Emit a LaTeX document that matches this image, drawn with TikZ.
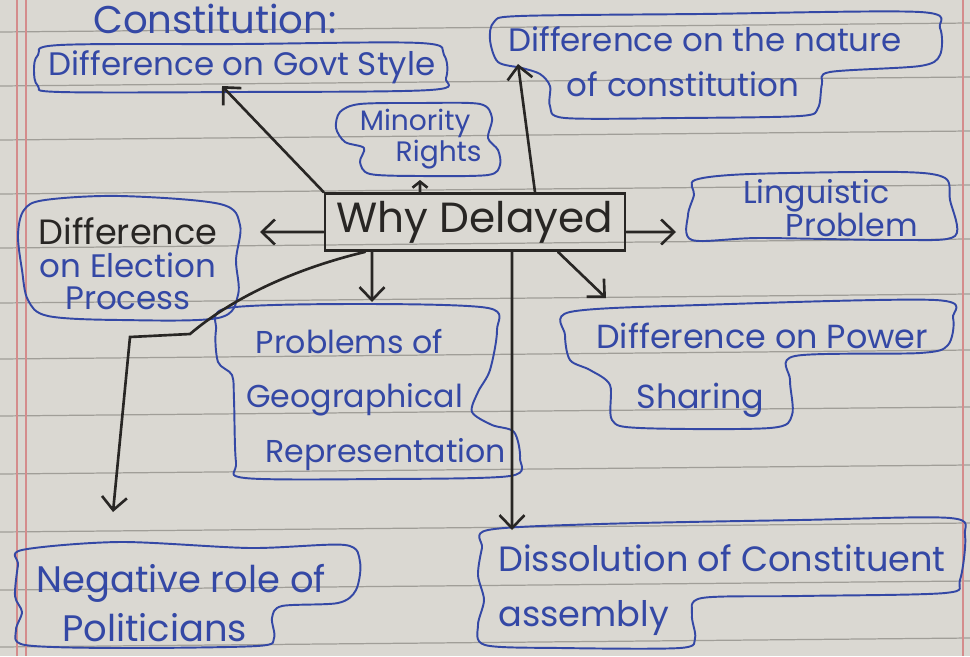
\documentclass[tikz,border=0pt]{standalone}
\usepackage{fontspec}
\setmainfont{Poppins}
\usepackage{tikz}
\usetikzlibrary{positioning,arrows.meta}
\usepackage{xcolor}

\definecolor{paper}{RGB}{218,216,210}
\definecolor{rulegray}{RGB}{160,158,152}
\definecolor{marginred}{RGB}{212,140,140}
\definecolor{ink}{RGB}{52,72,165}
\definecolor{pencil}{RGB}{40,38,36}

\tikzset{
  bubble/.style={ink, line width=1.1pt, line join=round},
  hand/.style={ink, align=center, inner sep=0pt,
    font=\fontsize{18}{26}\selectfont},
  link/.style={pencil, line width=1.5pt, line cap=round,
    -{Straight Barb[length=2.6mm,width=5mm]}},
}

\begin{document}
\begin{tikzpicture}[x=0.02cm, y=-0.02cm]
    % ruled paper
    \useasboundingbox (0,0) rectangle (970,656);
    \fill[paper] (0,0) rectangle (970,656);
    \foreach \y in {32,86,140,194,248,303,359,416,474,532,590,647} {
        \draw[rulegray, line width=0.7pt] (0,\y) -- (970,\y-9);
    }
    \draw[marginred, line width=0.6pt] (17,0) -- (17,656);
    \draw[marginred, line width=0.6pt] (26,0) -- (26,656);
    \draw[marginred, line width=0.6pt] (963,0) -- (963,656);

    % heading
    \node[hand, font=\fontsize{22}{24}\selectfont] (title) at (215,19) {Constitution:};

    % centre
    \node[draw=pencil, line width=1.6pt, minimum width=6cm, minimum height=1.14cm,
          inner sep=0pt, pencil, font=\fontsize{24}{26}\selectfont] (why) at (475,222) {Why Delayed};

    % bubbles
    \draw[bubble] plot[smooth cycle, tension=0.55] coordinates {
        (38,55) (60,45) (240,44) (420,43) (444,55) (446,78) (430,90)
        (240,92) (60,92) (38,86) (34,70)};
    \node[hand, font=\fontsize{18.5}{20}\selectfont] (govt) at (242,67) {Difference on Govt Style};

    \draw[bubble] plot[smooth cycle, tension=0.5] coordinates {
        (494,22) (520,16) (700,14) (920,12) (940,28) (940,55) (920,66)
        (830,72) (822,84) (818,108) (800,116) (680,118) (565,118)
        (550,106) (550,86) (540,74) (522,68) (498,62) (490,40)};
    \node[hand, anchor=west, align=left, font=\fontsize{18.5}{25.5}\selectfont] (nature) at (508,62)
        {Difference on the nature\\\hspace*{1.8em}of constitution};

    \draw[bubble] plot[smooth cycle, tension=0.5] coordinates {
        (340,112) (360,104) (420,103) (480,104) (492,118) (488,138)
        (498,150) (500,165) (488,175) (420,176) (370,174) (360,162)
        (364,148) (345,142) (336,128)};
    \node[hand, anchor=east, align=right, font=\fontsize{16}{15.5}\selectfont] (minority) at (482,139)
        {Minority\hspace*{0.4em}\\Rights};

    \draw[bubble] plot[smooth cycle, tension=0.55] coordinates {
        (45,200) (120,196) (220,204) (240,225) (236,260) (238,295)
        (218,318) (120,320) (48,316) (28,300) (22,270) (18,235) (24,210)};
    \node[hand, font=\fontsize{18.5}{18.5}\selectfont] (election) at (128,264)
        {\textcolor{pencil}{\fontsize{20}{19}\selectfont Difference}\\on Election\\Process};

    \draw[bubble] plot[smooth cycle, tension=0.5] coordinates {
        (695,180) (750,174) (900,172) (945,178) (950,200) (955,236)
        (900,240) (760,238) (692,240) (688,215) (694,195)};
    \node[hand, anchor=east, align=right, font=\fontsize{18}{15.5}\selectfont] (linguistic) at (918,208)
        {Linguistic\hspace*{0.9em}\\Problem};

    \draw[bubble] plot[smooth cycle, tension=0.5] coordinates {
        (228,308) (360,304) (488,308) (497,330) (490,370) (478,392)
        (472,412) (492,425) (514,432) (520,458) (510,476) (380,479)
        (245,478) (236,462) (234,400) (232,375) (218,362) (216,330)};
    \node[hand, anchor=west, align=left, font=\fontsize{18}{31}\selectfont] (geo) at (246,400)
        {\hspace*{0.3em}Problems of\\Geographical\\\hspace*{0.6em}Representation};

    \draw[bubble] plot[smooth cycle, tension=0.5] coordinates {
        (570,312) (700,305) (935,300) (953,318) (948,345) (920,353)
        (795,356) (790,380) (792,415) (770,428) (640,428) (612,420)
        (610,385) (590,370) (570,360) (565,335)};
    \node[hand, anchor=west, align=left, font=\fontsize{19}{34}\selectfont] (power) at (596,370)
        {Difference on Power\\\hspace*{1.2em}Sharing};

    \draw[bubble] plot[smooth cycle, tension=0.5] coordinates {
        (22,550) (120,542) (250,548) (345,545) (360,562) (356,590)
        (338,603) (282,606) (272,618) (274,638) (257,646) (120,648)
        (25,645) (16,630) (22,612) (15,596) (18,565)};
    \node[hand, anchor=west, align=left, font=\fontsize{21}{28}\selectfont] (politicians) at (36,603)
        {Negative role of\\\hspace*{0.7em}Politicians};

    \draw[bubble] plot[smooth cycle, tension=0.5] coordinates {
        (488,530) (600,524) (800,520) (950,518) (965,535) (960,580)
        (945,593) (800,596) (702,598) (692,615) (695,638) (680,648)
        (560,648) (485,645) (478,625) (484,600) (478,575) (482,548)};
    \node[hand, anchor=west, align=left, font=\fontsize{20}{31}\selectfont] (dissolution) at (498,590)
        {Dissolution of Constituent\\assembly};

    % arrow ends on the bubbles
    \coordinate (govt-end) at (222,86);
    \coordinate (nature-end) at (518,64);
    \coordinate (minority-end) at (420,180);
    \coordinate (election-end) at (260,232);
    \coordinate (linguistic-end) at (676,232);
    \coordinate (geo-end) at (372,302);
    \coordinate (power-end) at (606,298);
    \coordinate (politicians-end) at (113,512);
    \coordinate (dissolution-end) at (512,530);
    \coordinate (elbow) at (130,337);

    % connectors
    \draw[link] (why.north west) -- (govt-end);
    \draw[link] ([xshift=1.2cm]why.north) -- (nature-end);
    \draw[link, -{Straight Barb[length=1.2mm,width=3mm]}] ([xshift=-1.1cm]why.north) -- (minority-end);
    \draw[link] ([yshift=-0.2cm]why.west) -- (election-end);
    \draw[link] ([yshift=-0.2cm]why.east) -- (linguistic-end);
    \draw[link] ([xshift=-2.06cm]why.south) -- (geo-end);
    \draw[link] ([xshift=1.66cm]why.south) -- (power-end);
    \draw[link] ([xshift=-2.2cm]why.south) .. controls (290,270) and (230,300) .. (190,334)
        -- (elbow) -- (politicians-end);
    \draw[link] ([xshift=0.74cm]why.south) -- (dissolution-end);
\end{tikzpicture}
\end{document}
